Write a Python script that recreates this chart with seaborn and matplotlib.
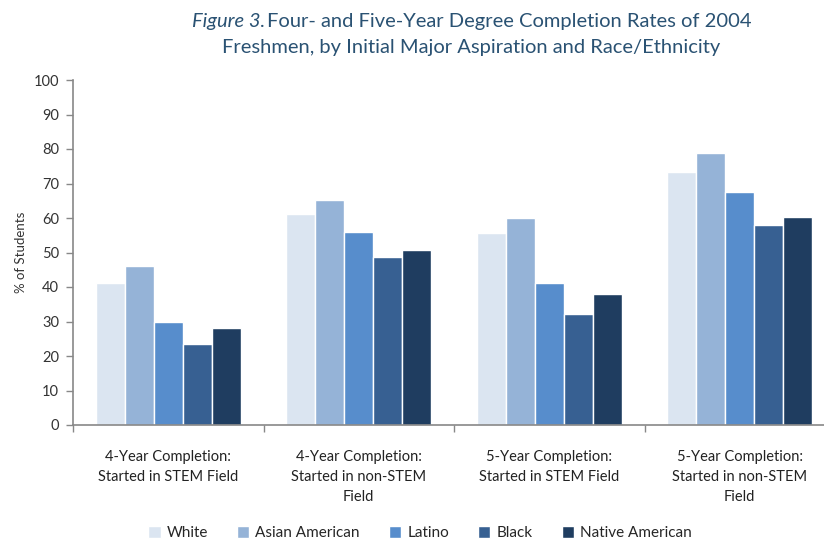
import matplotlib
matplotlib.use("Agg")
import matplotlib.pyplot as plt
import seaborn as sns
import pandas as pd

categories = ["4-Year Completion:\nStarted in STEM Field",
              "4-Year Completion:\nStarted in non-STEM\nField",
              "5-Year Completion:\nStarted in STEM Field",
              "5-Year Completion:\nStarted in non-STEM\nField"]
groups = ["White", "Asian American", "Latino", "Black", "Native American"]
white = [41.3, 61.3, 55.7, 73.3]
asian = [46.0, 65.1, 60.1, 78.9]
latino = [30.0, 55.8, 41.3, 67.5]
black = [23.6, 48.7, 32.1, 57.9]
native = [28.2, 50.8, 38.1, 60.3]
yticks = list(range(0, 101, 10))
colors = ["#dbe5f1", "#95b3d7", "#578dcc", "#376092", "#1f3d60"]

rows = []
for g, vals in zip(groups, [white, asian, latino, black, native]):
    for c, v in zip(categories, vals):
        rows.append({"Category": c, "Group": g, "Value": v})
df = pd.DataFrame(rows)

sns.set_theme(style="white")
plt.rcParams["font.family"] = ["Lato", "DejaVu Sans"]

fig = plt.figure(figsize=(8.24, 5.42), dpi=100)
ax = fig.add_axes([73/824, 117/542, 762/824, 345/542])
sns.barplot(data=df, x="Category", y="Value", hue="Group", palette=colors,
            width=0.76, saturation=1, ax=ax, legend=True, errorbar=None)

ax.set_ylim(0, 100)
ax.set_xlim(-0.5, 3.5)
ax.set_yticks(yticks)
ax.set_yticklabels([str(t) for t in yticks], fontsize=10.5, color="#333333")
ax.set_xlabel("")
ax.set_ylabel("% of Students", fontsize=9.5, color="#333333", labelpad=5)
ax.tick_params(axis="y", left=True, length=5, width=1, color="#888888", pad=5)
ax.tick_params(axis="x", bottom=False, labelsize=10.5, labelcolor="#222222", pad=12)
for lbl in ax.get_xticklabels():
    lbl.set_linespacing(1.55)
ax.set_xticks([-0.5, 0.5, 1.5, 2.5], minor=True)
ax.tick_params(axis="x", which="minor", bottom=True, length=5, width=1, color="#888888")
for s in ["top", "right"]:
    ax.spines[s].set_visible(False)
for s in ["left", "bottom"]:
    ax.spines[s].set_color("#888888")
    ax.spines[s].set_linewidth(1.2)

handles, labels = ax.get_legend_handles_labels()
ax.legend_.remove()
fig.legend(handles, labels, loc="center", bbox_to_anchor=(420/824, 1 - 533/542),
           ncol=5, frameon=False, fontsize=11, handlelength=0.8, handleheight=0.8,
           handletextpad=0.4, columnspacing=1.9)

# title with italic prefix
tcolor = "#2a5273"
renderer = fig.canvas.get_renderer()
t1a = fig.text(0, 1 - 22/542, "Figure 3.", fontsize=14.5, style="italic", color=tcolor, va="center")
t1b = fig.text(0, 1 - 22/542, "Four- and Five-Year Degree Completion Rates of 2004",
               fontsize=14.5, color=tcolor, va="center")
wa = t1a.get_window_extent(renderer).width
wb = t1b.get_window_extent(renderer).width
cx = 471
start = cx - (wa + wb) / 2
t1a.set_x(start / 824)
t1b.set_x((start + wa + 2) / 824)
fig.text(cx / 824, 1 - 47/542, "Freshmen, by Initial Major Aspiration and Race/Ethnicity",
         fontsize=14.5, color=tcolor, va="center", ha="center")

fig.savefig("out.png", dpi=100)
